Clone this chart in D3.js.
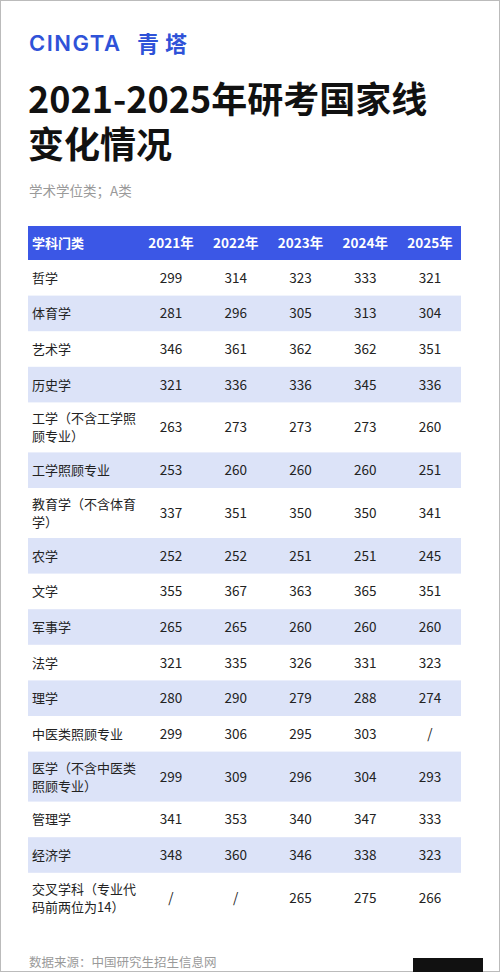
<!DOCTYPE html><html><head><meta charset="utf-8">
<script src="https://cdn.jsdelivr.net/npm/d3@7"></script>
<style>body{margin:0;background:#fff}</style></head><body>
<script>
const years=["2021年","2022年","2023年","2024年","2025年"];
const subjects=[["哲学"],["体育学"],["艺术学"],["历史学"],["工学（不含工学照","顾专业）"],["工学照顾专业"],["教育学（不含体育","学）"],["农学"],["文学"],["军事学"],["法学"],["理学"],["中医类照顾专业"],["医学（不含中医类","照顾专业）"],["管理学"],["经济学"],["交叉学科（专业代","码前两位为14）"]];
const v2021=["299","281","346","321","263","253","337","252","355","265","321","280","299","299","341","348","/"];
const v2022=["314","296","361","336","273","260","351","252","367","265","335","290","306","309","353","360","/"];
const v2023=["323","305","362","336","273","260","350","251","363","260","326","279","295","296","340","346","265"];
const v2024=["333","313","362","345","273","260","350","251","365","260","331","288","303","304","347","338","275"];
const v2025=["321","304","351","336","260","251","341","245","351","260","323","274","/","293","333","323","266"];
const series=[v2021,v2022,v2023,v2024,v2025];
const titleLines=["2021-2025年研考国家线","变化情况"];

const W=500,H=972;
const svg=d3.select("body").append("svg").attr("width",W).attr("height",H)
 .style("font-family","'Noto Sans CJK SC','Noto Sans',sans-serif");
svg.append("rect").attr("x",0.5).attr("y",0.5).attr("width",W-1).attr("height",H-1).attr("fill","#fff").attr("stroke","#bbb");
svg.append("text").attr("x",29).attr("y",51).attr("fill","#2f52d8").attr("font-size",22).attr("font-weight",600).attr("letter-spacing",1.5)
 .attr("font-family","Inter,'Noto Sans',sans-serif").text("CINGTA");
svg.append("text").attr("x",137).attr("y",52).attr("fill","#2f52d8").attr("font-size",22).attr("font-weight",700).attr("letter-spacing",6).text("青塔");
const tt=svg.append("text").attr("x",28).attr("y",113).attr("font-size",36).attr("font-weight",700).attr("fill","#111");
titleLines.forEach((l,i)=>tt.append("tspan").attr("x",28).attr("y",113+i*45).text(l));
svg.append("text").attr("x",29).attr("y",196).attr("font-size",13.5).attr("fill","#9a9a9a").text("学术学位类；A类");

const x0=28,x1=461;
const xs=d3.scalePoint().domain(years).range([171,430]);
const hdrY=226,hdrH=34;
svg.append("rect").attr("x",x0).attr("y",hdrY).attr("width",x1-x0).attr("height",hdrH).attr("fill","#3b57e6");
svg.append("text").attr("x",32).attr("y",hdrY+22).attr("fill","#fff").attr("font-size",13).attr("font-weight",700).text("学科门类");
years.forEach(y=>svg.append("text").attr("x",xs(y)).attr("y",hdrY+22).attr("text-anchor","middle").attr("fill","#fff").attr("font-size",13.5).attr("font-weight",700).text(y));

const heights=subjects.map(s=>s.length>1?50:35.6);
let y=hdrY+hdrH;
subjects.forEach((s,i)=>{
  const h=heights[i],cy=y+h/2;
  if(i%2===1) svg.append("rect").attr("x",x0).attr("y",y).attr("width",x1-x0).attr("height",h).attr("fill","#dce3f8");
  s.forEach((line,k)=>svg.append("text").attr("x",32).attr("y",cy+5+(k-(s.length-1)/2)*18).attr("font-size",13).attr("fill","#222").text(line));
  series.forEach((arr,j)=>svg.append("text").attr("x",xs(years[j])).attr("y",cy+5).attr("text-anchor","middle").attr("font-size",13.5).attr("fill","#222").text(arr[i]));
  y+=h;
});
svg.append("text").attr("x",29).attr("y",967).attr("font-size",12.5).attr("fill","#9a9a9a").text("数据来源：中国研究生招生信息网");
svg.append("rect").attr("x",413).attr("y",958).attr("width",70).attr("height",14).attr("fill","#111");
</script></body></html>
